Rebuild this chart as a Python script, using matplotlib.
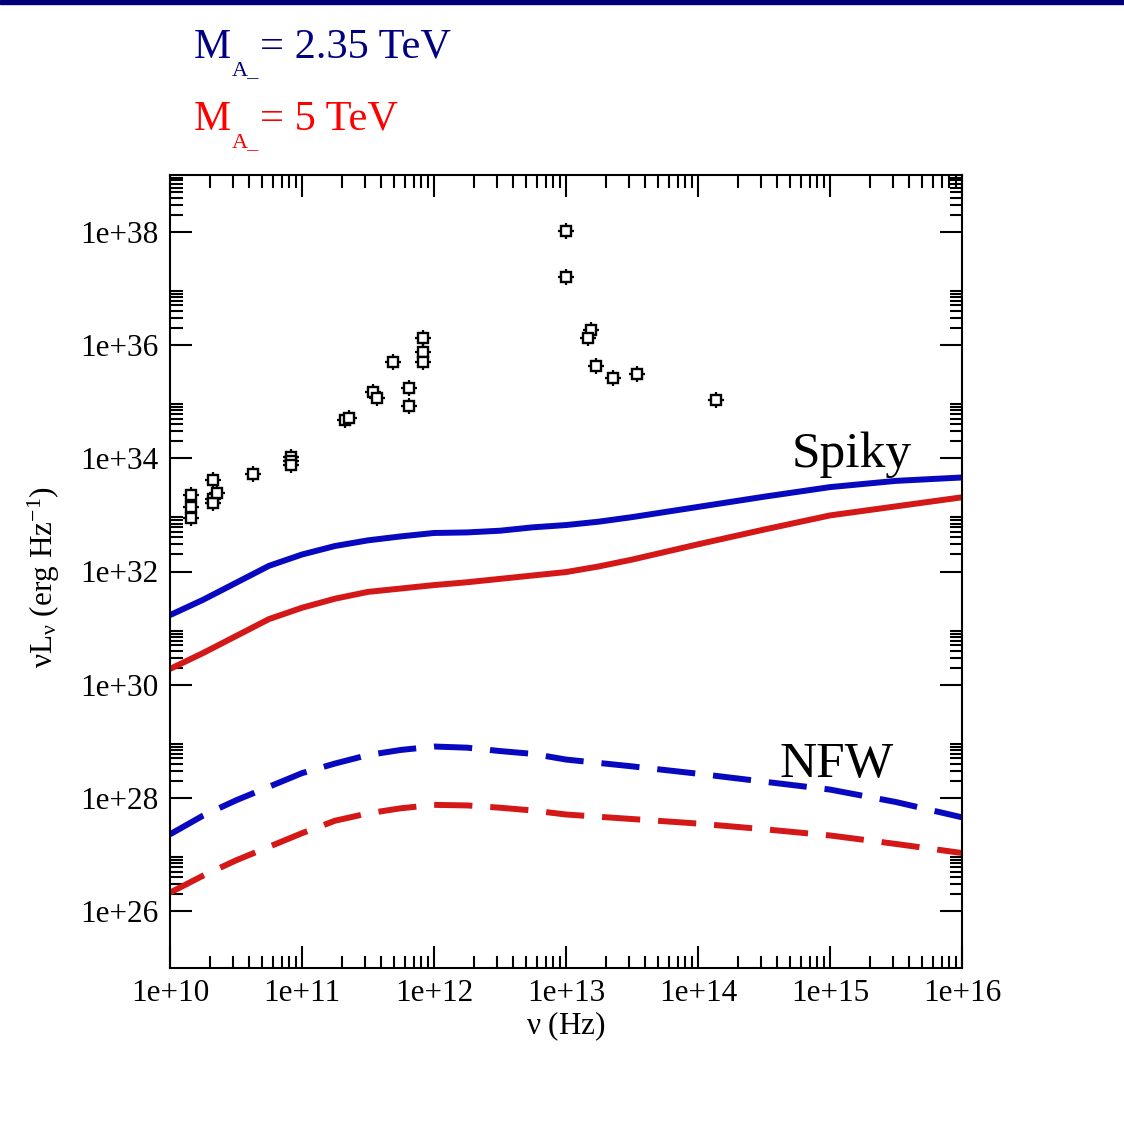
import numpy as np
import matplotlib
matplotlib.use("Agg")
import matplotlib.pyplot as plt
from matplotlib.ticker import FixedLocator, FuncFormatter, NullFormatter
from matplotlib.patches import Rectangle

plt.rcParams['font.family'] = ['Liberation Serif', 'DejaVu Serif']
plt.rcParams['mathtext.fontset'] = 'custom'
plt.rcParams['mathtext.rm'] = 'Liberation Serif'
plt.rcParams['mathtext.it'] = 'Liberation Serif:italic'
plt.rcParams['mathtext.default'] = 'regular'

# observed points (Hz, erg/s)
obs_nu = [1.44e10, 1.44e10, 1.44e10, 2.10e10, 2.10e10, 2.10e10, 2.28e10, 4.28e10,
          8.26e10, 8.26e10, 8.26e10, 2.12e11, 2.28e11, 3.47e11, 3.72e11, 4.92e11,
          6.50e11, 6.50e11, 8.30e11, 8.30e11, 8.30e11, 1.0e13, 1.0e13, 1.55e13,
          1.46e13, 1.68e13, 2.28e13, 3.47e13, 1.36e14]
obs_L = [2.2e33, 1.4e33, 8.9e32, 4.2e33, 1.9e33, 1.6e33, 2.4e33, 5.3e33,
         1.03e34, 9.0e33, 7.6e33, 4.7e34, 5.1e34, 1.49e35, 1.14e35, 4.95e35,
         1.71e35, 8.2e34, 1.33e36, 7.4e35, 4.95e35, 1.03e38, 1.61e37, 1.86e36,
         1.33e36, 4.2e35, 2.56e35, 3.08e35, 1.05e35]

# model curves, log10 of nu and of nu*L_nu
log_nu = [10.0, 10.25, 10.5, 10.75, 11.0, 11.25, 11.5, 11.75, 12.0, 12.25,
          12.5, 12.75, 13.0, 13.25, 13.5, 14.0, 14.5, 15.0, 15.5, 16.0]
spiky_235 = [31.23, 31.50, 31.80, 32.10, 32.30, 32.45, 32.55, 32.62, 32.68, 32.69,
             32.72, 32.78, 32.82, 32.88, 32.96, 33.14, 33.32, 33.49, 33.60, 33.66]
spiky_5 = [30.28, 30.56, 30.86, 31.16, 31.36, 31.52, 31.64, 31.70, 31.76, 31.81,
           31.87, 31.93, 31.99, 32.09, 32.21, 32.48, 32.74, 32.99, 33.15, 33.31]
nfw_235 = [27.36, 27.69, 27.96, 28.20, 28.44, 28.61, 28.76, 28.85, 28.91, 28.89,
           28.83, 28.78, 28.68, 28.62, 28.56, 28.43, 28.29, 28.15, 27.93, 27.66]
nfw_5 = [26.33, 26.63, 26.90, 27.14, 27.38, 27.60, 27.73, 27.82, 27.88, 27.87,
         27.83, 27.78, 27.71, 27.67, 27.63, 27.55, 27.45, 27.34, 27.19, 27.03]

blue = '#0808c0'
red = '#d41818'

fig = plt.figure(figsize=(11.24, 11.35), dpi=100)
fig.patches.append(Rectangle((0, 1 - 4 / 1135), 1, 4 / 1135, transform=fig.transFigure,
                             color='#00007a', zorder=10))
ax = fig.add_axes([170 / 1124, 1 - 968 / 1135, 792 / 1124, 793 / 1135])

nu = 10 ** np.array(log_nu)
ax.plot(nu, 10 ** np.array(spiky_235), color=blue, lw=4.3, solid_capstyle='butt')
ax.plot(nu, 10 ** np.array(spiky_5), color=red, lw=4.3, solid_capstyle='butt')
l1, = ax.plot(nu, 10 ** np.array(nfw_235), color=blue, lw=4.3)
l2, = ax.plot(nu, 10 ** np.array(nfw_5), color=red, lw=4.3)
for l in (l1, l2):
    l.set_dashes((6.4, 3.0))

ax.plot(obs_nu, obs_L, ls='none', marker='+', ms=11.5, mew=1.6, color='k', zorder=5)
ax.plot(obs_nu, obs_L, ls='none', marker='s', ms=7, mew=1.7, mec='k', mfc='white', zorder=6)

ax.set_xscale('log')
ax.set_yscale('log')
ax.set_xlim(1e10, 1e16)
ax.set_ylim(1e25, 1e39)

fmt = FuncFormatter(lambda v, p: "1e+%d" % round(np.log10(v)))
ax.xaxis.set_major_locator(FixedLocator([10.0 ** e for e in range(10, 17)]))
ax.xaxis.set_minor_locator(FixedLocator([k * 10.0 ** e for e in range(10, 16) for k in range(2, 10)]))
ax.yaxis.set_major_locator(FixedLocator([10.0 ** e for e in range(26, 39, 2)]))
ax.yaxis.set_minor_locator(FixedLocator([k * 10.0 ** e for e in range(24, 40, 2) for k in range(2, 10)]))
ax.xaxis.set_major_formatter(fmt)
ax.yaxis.set_major_formatter(fmt)
ax.xaxis.set_minor_formatter(NullFormatter())
ax.yaxis.set_minor_formatter(NullFormatter())

ax.tick_params(which='both', direction='in', top=True, right=True, width=1.5, labelsize=22.5)
ax.tick_params(which='major', length=16, pad=8)
ax.tick_params(which='minor', length=9)
for s in ax.spines.values():
    s.set_linewidth(1.5)

ax.set_xlabel(r"$\nu$ (Hz)", fontsize=22.5)
ax.set_ylabel(r"$\nu L_\nu$ (erg Hz$^{-1}$)", fontsize=22.5)
ax.xaxis.set_label_coords(0.5, -0.052)
ax.yaxis.set_label_coords(-0.136, 0.493)

ax.text(0.785, 0.632, "Spiky", transform=ax.transAxes, fontsize=37, va='baseline', ha='left')
ax.text(0.769, 0.241, "NFW", transform=ax.transAxes, fontsize=37, va='baseline', ha='left')

# mass labels at the top
navy = '#000080'
for txt, col, base in [("= 2.35 TeV", navy, 58), ("= 5 TeV", '#ff0000', 130)]:
    fig.text(194 / 1124, 1 - base / 1135, "M", color=col, fontsize=30, va='baseline')
    fig.text(232 / 1124, 1 - (base + 17) / 1135, "A_", color=col, fontsize=16, va='baseline')
    fig.text(260 / 1124, 1 - base / 1135, txt, color=col, fontsize=30.5, va='baseline')

fig.savefig("out.png", dpi=100)
